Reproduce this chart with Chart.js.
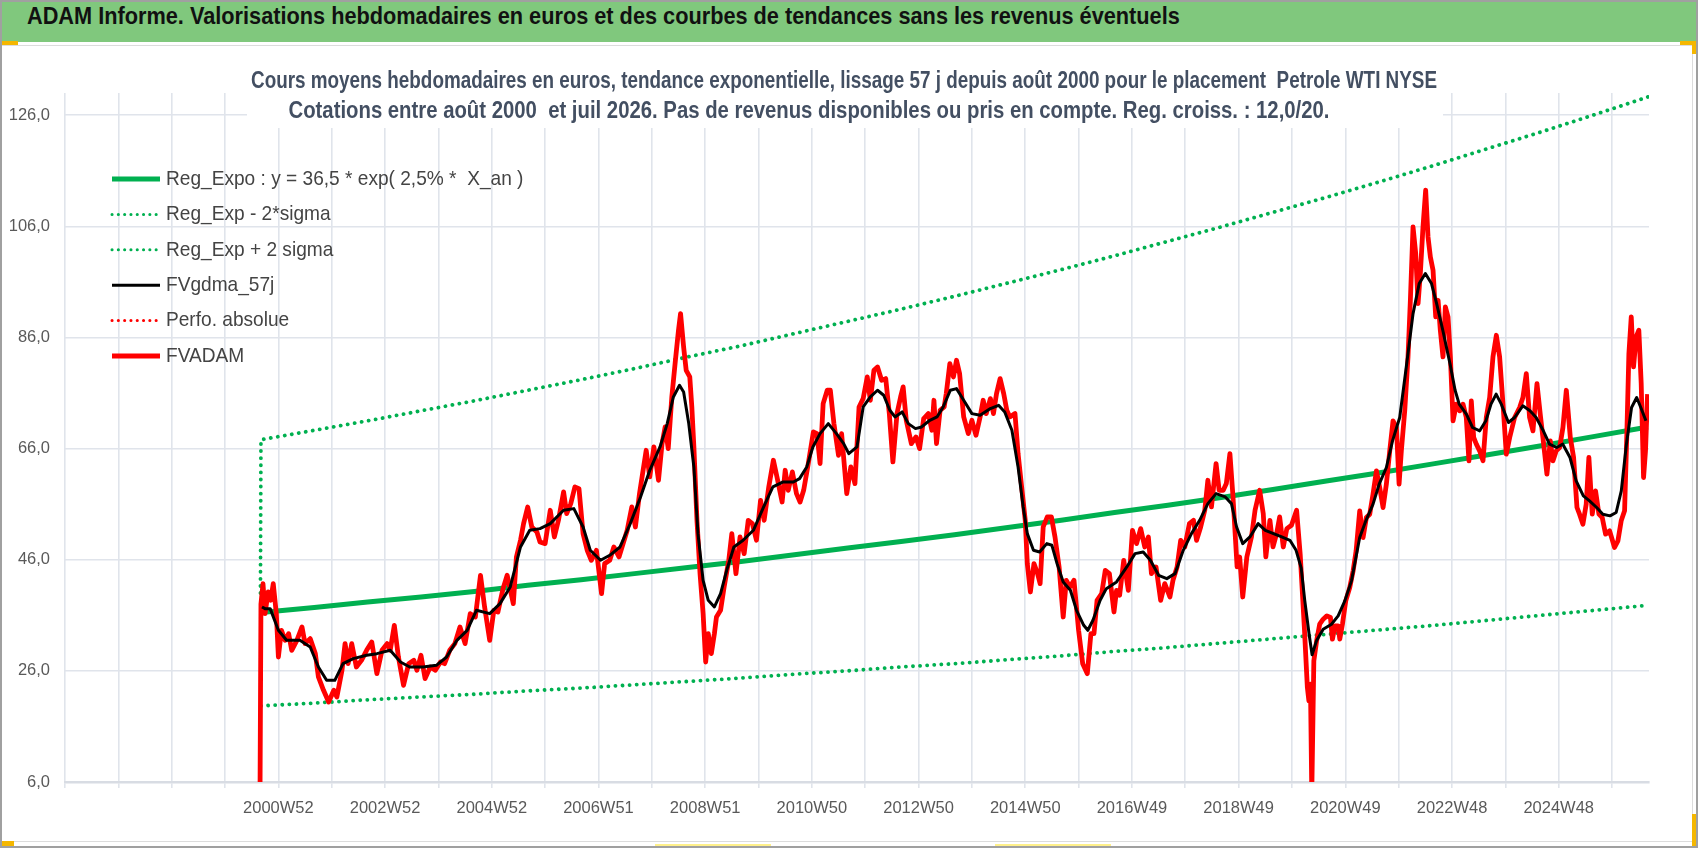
<!DOCTYPE html>
<html>
<head>
<meta charset="utf-8">
<script src="https://cdn.jsdelivr.net/npm/chart.js@4.4.1/dist/chart.umd.min.js"></script>
<style>
  body { margin: 0; background: #fff; }
  #frame { position: relative; width: 1698px; height: 848px; box-sizing: border-box; border: 2px solid #a0a0a0; overflow: hidden; }
  #bar { position: absolute; left: 0; top: 0; width: 1694px; height: 40px; background: #80c87d; }
  #bar span { position: absolute; left: 25px; top: 0; line-height: 40px; white-space: nowrap;
              font: bold 24px "Liberation Sans", sans-serif; color: #111;
              transform: scaleX(0.905); transform-origin: left center; }
  #box { position: absolute; left: 0; top: 43px; width: 1690px; height: 795px; border: 1px solid #dcdcdc; border-left: none; }
  .mark { position: absolute; background: #f5b700; }
  .hint { position: absolute; background: #fff08a; height: 3px; top: 842px; }
  #chart { position: absolute; left: -2px; top: -2px; }
</style>
</head>
<body>
<div id="frame">
  <div id="bar"><span>ADAM Informe. Valorisations hebdomadaires en euros et des courbes de tendances sans les revenus éventuels</span></div>
  <div id="box"></div>
  <div class="mark" style="left:0;top:39px;width:16px;height:4px"></div>
  <div class="mark" style="left:1678px;top:39px;width:16px;height:4px"></div>
  <div class="mark" style="left:1690px;top:39px;width:4px;height:13px"></div>
  <div class="mark" style="left:1690px;top:812px;width:4px;height:32px"></div>
  <div class="mark" style="left:0;top:839px;width:12px;height:5px"></div>
  <div class="hint" style="left:653px;width:116px"></div>
  <div class="hint" style="left:993px;width:116px"></div>
  <canvas id="chart" width="1698" height="848"></canvas>
</div>
<script>
// x values are weeks counted from 2000W52
const tickLabels = ['2000W52', '2002W52', '2004W52', '2006W51', '2008W51', '2010W50', '2012W50',
  '2014W50', '2016W49', '2018W49', '2020W49', '2022W48', '2024W48'];
const yTicks = [6, 26, 46, 66, 86, 106, 126];

const trendWeeks = [-17, 35, 87, 139, 191, 243, 295, 347, 399, 451, 503, 555, 607, 659, 711,
  763, 815, 867, 919, 971, 1023, 1075, 1127, 1179, 1231, 1283, 1335];
const regExpo = [36.5, 37.4, 38.4, 39.3, 40.3, 41.4, 42.4, 43.5, 44.6, 45.7, 46.9, 48.1, 49.3, 50.5,
  51.8, 53.1, 54.5, 55.8, 57.2, 58.7, 60.2, 61.7, 63.3, 64.9, 66.5, 68.2, 69.9];
const regLow = [19.7, 20.2, 20.8, 21.3, 21.8, 22.4, 22.9, 23.5, 24.1, 24.7, 25.4, 26.0, 26.7, 27.3,
  28.0, 28.7, 29.5, 30.2, 31.0, 31.8, 32.6, 33.4, 34.2, 35.1, 36.0, 36.9, 37.8];
const highWeeks = [-17.5, -17, 35, 87, 139, 191, 243, 295, 347, 399, 451, 503, 555, 607, 659, 711,
  763, 815, 867, 919, 971, 1023, 1075, 1127, 1179, 1231, 1283, 1335];
const regHigh = [40.0, 67.6, 69.3, 71.0, 72.8, 74.6, 76.5, 78.4, 80.4, 82.5, 84.5, 86.7, 88.9, 91.1,
  93.4, 95.8, 98.2, 100.7, 103.3, 105.9, 108.6, 111.3, 114.1, 117.0, 120.0, 123.0, 126.1, 129.3];

const fvadamWeeks = [-18, -17, -15, -13, -10, -7.5, -5, -2, 0, 3, 6.5, 10, 13, 18, 23, 26, 31, 36, 39, 44,
  49, 54, 57, 62, 65, 68, 71.5, 76, 81, 86, 91, 96, 101, 106, 109, 113, 117, 122, 127, 132,
  135, 139, 143, 148, 153, 158, 162, 167, 172, 177, 182, 187, 192, 197, 201, 206, 210, 214, 219, 223,
  229, 232, 236, 239, 243, 247, 252, 255, 260, 265, 269, 273, 278, 281, 285, 289, 293, 297, 301, 305,
  310, 315, 318, 323, 327, 332, 335, 340, 344.5, 348, 352, 355, 358.5, 362, 366, 370.5, 374, 377, 380, 383.5,
  387, 390, 392, 395, 397.5, 401, 403, 405, 408, 411, 414, 416.5, 419, 422, 425, 427, 431, 434.5, 439, 442,
  446, 450, 454, 458, 462, 466, 470, 473.5, 478, 482.5, 486, 491, 494, 497, 501, 505, 508.5, 512, 516.5, 521.5,
  525, 528, 531, 535, 538, 541.5, 546, 549, 554, 558, 562, 566, 570, 574, 577, 580.5, 584, 588, 592, 595.5,
  599, 603, 606.5, 609, 612, 617, 621.5, 625, 629, 633.5, 637, 639, 641.5, 645, 649, 651, 654.5, 658, 661, 664,
  668, 672.5, 676, 680, 684, 687, 690, 694, 697, 700, 703.5, 707, 710, 713, 718, 721, 724.5, 728, 730, 733,
  736.5, 740, 742.5, 745.5, 749.5, 753.5, 757, 761, 765, 768, 771.5, 775.5, 780, 784, 788.5, 792, 795, 798, 802.5, 806,
  810, 814.5, 817, 820, 824, 828.5, 832.5, 836.5, 840.5, 844.5, 848, 851, 855.5, 860, 864, 869, 872, 876, 879.5, 883.5,
  888, 892, 895, 899, 903, 906, 909.5, 914, 917, 921, 924, 927.5, 930.5, 934.5, 937, 940, 944, 948.5, 952, 956.5,
  960, 962.5, 966.5, 969.5, 973, 976, 979.5, 983, 987.5, 992.5, 996, 1000, 1003, 1004.5, 1006, 1007.3, 1009.3, 1012, 1015, 1018.4,
  1022, 1025.5, 1027.4, 1030, 1033, 1034.6, 1037.2, 1040.4, 1044.3, 1047.6, 1050.5, 1054, 1057.3, 1060.5, 1063.8, 1067, 1070.3, 1073.5, 1076.8, 1080,
  1083.3, 1086.5, 1089.8, 1092.4, 1094.6, 1097.9, 1101.1, 1103.4, 1106, 1108.6, 1110.9, 1113.1, 1115.7, 1118.3, 1120.6, 1122.9, 1125.5, 1128.1, 1130.4, 1132.6,
  1135.2, 1137.5, 1140.1, 1142.4, 1145, 1148.2, 1151.5, 1154.7, 1157.9, 1160.5, 1162.8, 1165.1, 1167.7, 1170.9, 1174.2, 1177.4, 1180.7, 1183.9, 1187.2, 1190.4,
  1193.7, 1196.9, 1200.2, 1205, 1209.9, 1213.1, 1216.4, 1219.6, 1222.9, 1226.8, 1230, 1232.6, 1236.5, 1239.8, 1242.4, 1245.6, 1248.9, 1252.1, 1255.4, 1259.3,
  1262.5, 1265.8, 1268.3, 1271.6, 1274.8, 1277.4, 1280.7, 1283.9, 1287.2, 1290.4, 1293.7, 1297.6, 1302.4, 1305.7, 1308.9, 1312.2, 1314.4, 1316.4, 1318.7, 1320.9,
  1323.5, 1326.1, 1328.4, 1330.7, 1332.6, 1334.6];
const fvadamValues = [0, 38, 41.7, 36.3, 40.2, 38.7, 41.7, 36.3, 28.5, 33.3, 31.5, 32.7, 29.7, 31.5, 33.9, 30.9, 31.8, 29.1, 24.9, 22.5,
  20.4, 22.5, 21.3, 26.1, 30.9, 27.3, 30.9, 26.7, 27.9, 29.7, 31.2, 25.5, 29.7, 30.9, 29.7, 34.2, 28.5, 23.4, 27.3, 27.9,
  26.1, 28.8, 24.6, 26.7, 26.1, 27.6, 27.3, 29.7, 30.9, 33.9, 30.9, 36.3, 35.7, 43.2, 37.5, 31.5, 36.9, 36.6, 40.8, 43.2,
  38.1, 46.5, 49.5, 52.5, 55.5, 51.9, 51.0, 49.2, 48.9, 54.9, 50.1, 53.1, 58.2, 54.3, 56.1, 59.1, 58.8, 50.7, 47.7, 45.9,
  47.7, 39.9, 45.3, 45.9, 48.3, 46.5, 48.3, 51.3, 55.5, 51.9, 57.9, 61.5, 65.7, 60.9, 66.3, 60.3, 66.9, 69.9, 66.0, 75.3,
  81.9, 87.3, 90.3, 84.3, 80.1, 78.9, 73.5, 66.3, 53.1, 43.5, 36.3, 27.6, 32.7, 29.1, 32.7, 35.7, 36.9, 41.1, 45.9, 50.7,
  43.5, 50.1, 47.1, 53.1, 52.5, 49.5, 56.7, 53.1, 59.1, 63.9, 60.9, 56.4, 62.1, 58.5, 61.8, 57.9, 56.4, 58.5, 63.3, 69.0,
  68.7, 63.3, 74.1, 76.5, 76.5, 70.5, 64.8, 68.7, 57.9, 62.7, 59.7, 73.5, 75.0, 78.9, 74.7, 80.1, 80.7, 78.3, 78.6, 72.3,
  63.6, 72.3, 75.3, 77.1, 71.1, 66.9, 68.1, 66.0, 71.4, 72.3, 69.3, 74.7, 66.9, 72.9, 73.5, 75.9, 81.3, 78.9, 81.9, 79.5,
  71.7, 68.7, 71.1, 68.4, 71.7, 74.7, 72.3, 75.0, 72.3, 75.9, 78.6, 75.9, 72.9, 71.7, 72.3, 65.1, 59.1, 53.1, 45.3, 40.2,
  45.3, 43.5, 41.7, 51.9, 53.7, 53.7, 50.1, 44.7, 35.7, 42.3, 41.1, 42.3, 33.3, 27.3, 25.5, 32.7, 32.7, 38.7, 39.9, 44.1,
  43.5, 36.6, 40.5, 39.6, 45.9, 40.5, 51.3, 48.9, 51.6, 48.3, 50.1, 43.5, 44.7, 38.7, 41.7, 39.3, 42.3, 44.7, 49.5, 48.3,
  52.5, 53.1, 49.5, 51.9, 54.9, 60.3, 55.5, 63.3, 58.5, 58.5, 59.7, 65.1, 57.3, 44.7, 46.5, 39.3, 46.5, 50.1, 54.9, 58.5,
  54.3, 46.5, 53.1, 48.3, 50.7, 53.7, 48.3, 51.6, 52.2, 54.9, 47.0, 34.0, 23.0, 20.6, 23.6, 4.0, 27.8, 31.4, 34.4, 35.3,
  35.9, 35.6, 31.7, 34.1, 34.1, 31.7, 34.4, 38.6, 41.0, 44.0, 47.6, 54.8, 50.0, 53.6, 54.2, 57.8, 62.0, 59.0, 55.4, 59.6,
  65.6, 71.0, 69.8, 59.6, 65.6, 72.8, 82.5, 92.7, 105.9, 101.1, 92.1, 97.5, 105.9, 112.5, 104.1, 100.5, 98.1, 89.7, 92.7, 87.3,
  82.5, 91.5, 89.7, 82.5, 71.0, 74.0, 72.8, 74.0, 71.6, 63.8, 74.6, 68.0, 66.8, 65.6, 63.8, 71.6, 75.2, 82.5, 86.4, 82.5,
  74.0, 65.0, 68.0, 71.6, 73.4, 75.2, 79.5, 71.6, 69.2, 77.7, 72.2, 68.0, 61.4, 67.4, 63.8, 65.6, 66.2, 69.8, 76.5, 68.0,
  64.4, 55.4, 54.2, 52.4, 56.0, 64.4, 54.2, 58.4, 54.2, 53.6, 50.6, 51.2, 48.2, 49.4, 53.0, 54.8, 68.6, 83.1, 89.7, 80.7,
  86.1, 87.3, 77.7, 60.8, 65.6, 75.8];

const gdmaWeeks = [-16, -13, -8, 0, 8, 21, 31, 39, 47, 55, 63, 73, 86, 96, 109, 119, 128, 141, 154, 164,
  174, 184, 193, 206, 216, 226, 236, 245, 255, 265, 278, 288, 297, 304, 314, 323, 333, 343, 353, 362,
  372, 379, 385, 391, 395, 400, 405, 409, 414, 419, 425, 431, 437, 444, 453, 463, 473, 482, 492, 502,
  508, 515, 521, 528, 536, 544, 551, 556, 564, 570, 577, 584, 590, 596, 601, 608, 614, 621, 627, 635,
  642, 648, 655, 661, 668, 676, 684, 694, 702, 708, 715, 721, 726, 730, 736, 742, 749, 754, 759, 765,
  772, 778, 785, 789, 794, 801, 807, 817, 827, 835, 843, 850, 858, 866, 874, 882, 890, 898, 906, 914,
  923, 929, 934, 940, 947, 955, 962, 970, 978, 986, 992, 997, 1000.5, 1004.7, 1007.6, 1011.9, 1018.4, 1026.5, 1033, 1039.5,
  1046, 1054, 1060, 1067, 1073, 1080, 1086, 1093, 1099, 1106, 1112, 1118, 1124, 1129, 1135, 1142, 1147, 1151, 1158, 1164,
  1171, 1177, 1182, 1187, 1192, 1199, 1205, 1213, 1220, 1226, 1233, 1239, 1246, 1252, 1259, 1265, 1272, 1278, 1285, 1291,
  1298, 1304, 1309, 1314, 1319, 1324, 1328, 1333];
const gdmaValues = [37.5, 37.2, 37.2, 33.3, 31.5, 31.5, 30.3, 26.7, 24.3, 24.3, 27.3, 28.2, 28.8, 29.1, 29.7, 27.6, 26.7, 26.7, 27.0, 28.5,
  31.5, 33.3, 36.9, 36.3, 38.1, 41.1, 48.3, 51.3, 51.6, 52.5, 54.9, 55.2, 51.9, 47.7, 45.9, 46.8, 48.3, 52.5, 57.3, 62.1,
  66.3, 70.5, 75.3, 77.4, 76.2, 70.5, 62.7, 50.7, 42.3, 38.7, 37.5, 39.9, 44.1, 48.3, 49.5, 51.3, 55.5, 59.1, 60.0, 60.0,
  60.6, 62.7, 66.3, 68.7, 70.5, 68.7, 66.9, 65.1, 66.3, 73.5, 75.3, 76.5, 75.6, 72.9, 71.7, 72.6, 70.5, 69.6, 69.9, 71.1,
  71.7, 73.5, 76.5, 76.8, 74.7, 72.3, 72.0, 73.2, 73.8, 72.6, 69.3, 62.7, 55.5, 50.7, 47.7, 47.4, 48.9, 48.6, 45.3, 42.0,
  40.5, 36.9, 34.2, 33.3, 35.1, 38.7, 40.8, 42.0, 44.7, 47.1, 47.4, 45.9, 43.2, 42.6, 43.5, 47.7, 50.7, 53.1, 56.1, 57.9,
  57.3, 56.1, 51.9, 48.9, 50.1, 52.5, 51.3, 50.7, 50.1, 49.5, 47.7, 44.5, 38.6, 32.6, 28.9, 31.4, 33.5, 34.4, 35.9, 38.6,
  42.2, 50.0, 53.0, 56.0, 59.6, 62.6, 67.4, 71.6, 80.1, 90.3, 95.7, 97.5, 95.7, 92.1, 87.3, 81.3, 76.5, 74.0, 72.2, 69.8,
  69.2, 71.0, 74.0, 75.8, 74.0, 70.7, 71.6, 73.7, 72.8, 71.6, 69.2, 66.8, 66.2, 66.8, 64.4, 60.2, 57.5, 56.6, 55.4, 54.2,
  53.9, 54.5, 58.4, 66.8, 73.4, 75.2, 73.4, 71.0];

const perfoWeeks = [];
const perfoValues = [];

function points(weeks, values) {
  return weeks.map((w, i) => ({ x: w, y: values[i] }));
}

const GREEN = '#00b050';
const FONT = '"Liberation Sans", sans-serif';
const GRID = '#e0e4eb';

Chart.defaults.font.family = FONT;

// chart titles sit in a white box drawn over the grid, like the spreadsheet one
const titleBox = {
  id: 'titleBox',
  beforeDatasetsDraw(chart) {
    const c = chart.ctx;
    c.save();
    c.fillStyle = '#fff';
    c.fillRect(247, 62, 1196, 66);
    c.fillStyle = '#434f62';
    c.font = 'bold 23px ' + FONT;
    c.textAlign = 'center';
    c.textBaseline = 'middle';
    c.fillText('Cours moyens hebdomadaires en euros, tendance exponentielle, lissage 57 j depuis août 2000 pour le placement  Petrole WTI NYSE', 844, 82, 1186);
    c.fillText('Cotations entre août 2000  et juil 2026. Pas de revenus disponibles ou pris en compte. Reg. croiss. : 12,0/20.', 809, 112, 1041);
    c.restore();
  }
};

// legend drawn inside the plot, top left
const innerLegend = {
  id: 'innerLegend',
  afterDatasetsDraw(chart) {
    const c = chart.ctx;
    c.save();
    c.font = '21px ' + FONT;
    c.textBaseline = 'middle';
    chart.data.datasets.forEach((ds, i) => {
      const y = 179 + i * 35.4;
      c.beginPath();
      c.strokeStyle = ds.borderColor;
      c.lineWidth = ds.borderDash ? 3 : ds.borderWidth;
      c.lineCap = ds.borderDash ? 'round' : 'butt';
      c.setLineDash(ds.borderDash ? [0.1, 6.2] : []);
      c.moveTo(112, y);
      c.lineTo(160, y);
      c.stroke();
      c.setLineDash([]);
      c.fillStyle = '#444';
      c.save();
      c.translate(166, y);
      c.scale(0.91, 1);
      c.fillText(ds.label, 0, 0);
      c.restore();
    });
    c.restore();
  }
};

const dots = [0.1, 7];

new Chart(document.getElementById('chart'), {
  type: 'line',
  data: {
    datasets: [
      { label: 'Reg_Expo : y = 36,5 * exp( 2,5% *  X_an )', data: points(trendWeeks, regExpo),
        borderColor: GREEN, borderWidth: 5, order: 3 },
      { label: 'Reg_Exp - 2*sigma', data: points(trendWeeks, regLow),
        borderColor: GREEN, borderWidth: 3.8, borderDash: dots, borderCapStyle: 'round', order: 4 },
      { label: 'Reg_Exp + 2 sigma', data: points(highWeeks, regHigh),
        borderColor: GREEN, borderWidth: 3.8, borderDash: dots, borderCapStyle: 'round', order: 5 },
      { label: 'FVgdma_57j', data: points(gdmaWeeks, gdmaValues),
        borderColor: '#000', borderWidth: 3, order: 0 },
      { label: 'Perfo. absolue', data: points(perfoWeeks, perfoValues),
        borderColor: '#ff0000', borderWidth: 2, borderDash: dots, borderCapStyle: 'round', order: 2 },
      { label: 'FVADAM', data: points(fvadamWeeks, fvadamValues),
        borderColor: '#ff0000', borderWidth: 4.8, order: 1 }
    ]
  },
  options: {
    responsive: false,
    animation: false,
    layout: { padding: { left: 0, right: 49, top: 93, bottom: 0 } },
    elements: { point: { radius: 0 }, line: { tension: 0, borderJoinStyle: 'round' } },
    plugins: { legend: { display: false }, tooltip: { enabled: false }, title: { display: false } },
    scales: {
      x: {
        type: 'linear', min: -208, max: 1336,
        afterBuildTicks: (axis) => {
          const t = [];
          for (let v = -208; v <= 1300; v += 52) t.push({ value: v });
          axis.ticks = t;
        },
        afterFit: (s) => { s.height = 66; },
        ticks: {
          autoSkip: false, maxRotation: 0, padding: 11, color: '#595959', font: { size: 16.5 },
          callback: (v) => (v >= 0 && v % 104 === 0) ? tickLabels[v / 104] : ''
        },
        grid: { color: GRID, lineWidth: 1.6, tickLength: 6 },
        border: { color: '#d8dce3', width: 2.4 }
      },
      y: {
        min: 6, max: 130,
        afterBuildTicks: (axis) => { axis.ticks = yTicks.map(v => ({ value: v })); },
        afterFit: (s) => { s.width = 65; },
        ticks: {
          padding: 15, color: '#595959', font: { size: 16.5 },
          callback: (v) => v.toFixed(1).replace('.', ',')
        },
        grid: { color: GRID, lineWidth: 1.6, drawTicks: false },
        border: { display: false }
      }
    }
  },
  plugins: [titleBox, innerLegend]
});
</script>
</body>
</html>
